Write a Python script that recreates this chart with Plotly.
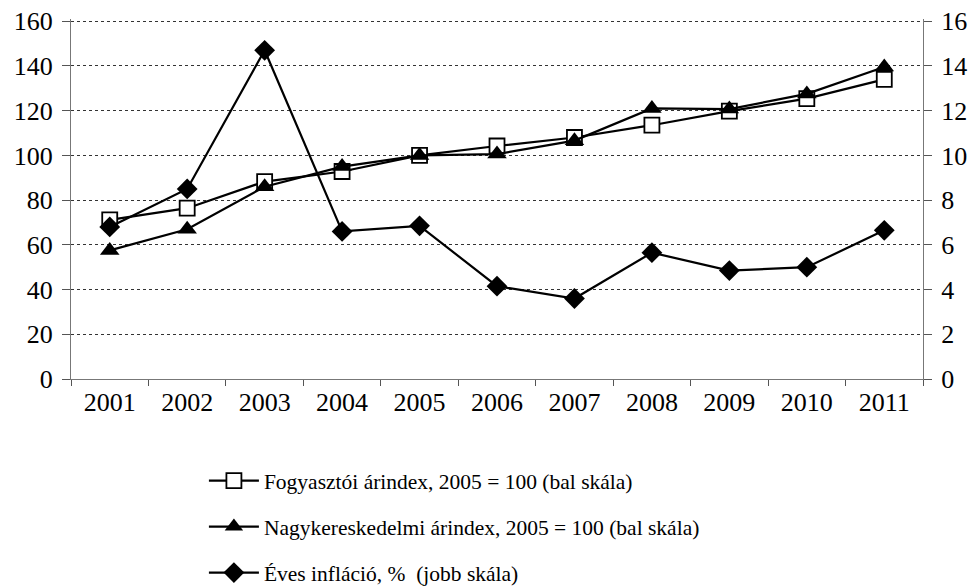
import plotly.graph_objects as go

years = ["2001", "2002", "2003", "2004", "2005", "2006", "2007", "2008", "2009", "2010", "2011"]
cpi = [71.2, 76.4, 88.3, 92.8, 100.0, 104.2, 108.0, 113.5, 119.8, 125.4, 134.0]
wpi = [57.5, 67.0, 86.0, 95.0, 100.0, 100.6, 106.6, 121.0, 120.7, 127.5, 139.5]
inflation = [6.8, 8.5, 14.7, 6.6, 6.85, 4.15, 3.6, 5.65, 4.85, 5.0, 6.65]

names = [
    "Fogyasztói árindex, 2005 = 100 (bal skála)",
    "Nagykereskedelmi árindex, 2005 = 100 (bal skála)",
    "Éves infláció, %  (jobb skála)",
]

FONT = "Liberation Serif"
LINE = dict(color="black", width=2.2)
TICKFONT = dict(size=26, family=FONT)

fig = go.Figure()
fig.add_trace(go.Scatter(
    x=years, y=cpi, name=names[0], mode="lines+markers", line=LINE,
    marker=dict(symbol="square", size=15, color="white", line=dict(color="black", width=1.8)),
    legendgroup="a",
))
fig.add_trace(go.Scatter(
    x=years, y=wpi, name=names[1], mode="lines+markers", line=LINE,
    marker=dict(symbol="triangle-up", size=17, color="black"),
    legendgroup="b",
))
fig.add_trace(go.Scatter(
    x=years, y=inflation, name=names[2], mode="lines+markers", line=LINE,
    marker=dict(symbol="diamond", size=16, color="black"),
    yaxis="y2", legendgroup="c",
))

# the page body has an 8px margin, so the figure is shrunk by 8px and shifted.
# range tops go one unit past 160/16 (top margin shrunk to match) so the
# 160 gridline is not swallowed by the plot edge
fig.update_layout(
    width=970, height=579,
    margin=dict(l=63, r=55, t=10.8, b=208, autoexpand=False),
    paper_bgcolor="white", plot_bgcolor="white",
    font=dict(family=FONT, color="black", size=24),
    xaxis=dict(
        type="category", range=[-0.5, 10.5], tickson="boundaries",
        ticks="outside", ticklen=6, tickcolor="#555", tickwidth=1,
        showline=True, linecolor="#777", linewidth=1.3,
        showgrid=False, tickfont=TICKFONT, automargin=False, ticklabelstandoff=0,
    ),
    yaxis=dict(
        range=[0, 161], tickvals=[0, 20, 40, 60, 80, 100, 120, 140, 160],
        ticks="outside", ticklen=8, tickcolor="#555",
        showline=True, linecolor="#777", linewidth=1.3,
        showgrid=True, gridcolor="#333", gridwidth=1, griddash="dot",
        zeroline=False, tickfont=TICKFONT, ticklabelstandoff=4,
        automargin=False, ticklabeloverflow="allow",
    ),
    yaxis2=dict(
        range=[0, 16.1], tickvals=[0, 2, 4, 6, 8, 10, 12, 14, 16],
        overlaying="y", side="right",
        ticks="outside", ticklen=8, tickcolor="#555",
        showline=True, linecolor="#777", linewidth=1.3,
        showgrid=False, zeroline=False, tickfont=TICKFONT, ticklabelstandoff=4,
        automargin=False, ticklabeloverflow="allow",
    ),
    showlegend=True,
    legend=dict(
        x=0.156, y=0.219, xanchor="left", yanchor="top", yref="container",
        traceorder="grouped", tracegroupgap=15, itemwidth=50,
        font=dict(size=21.5, family=FONT), bgcolor="rgba(0,0,0,0)",
    ),
)

fig.write_html("out.html")
